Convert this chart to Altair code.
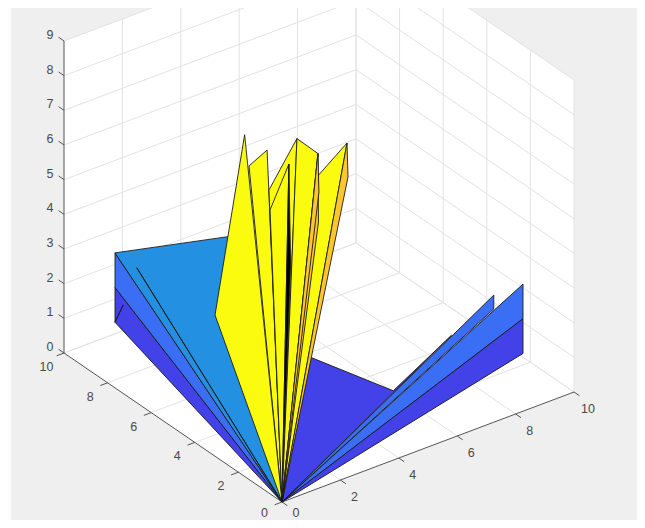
import altair as alt
import pandas as pd

DARK, MID, LIGHT, SKY = "#4341e8", "#3a6ef5", "#2a86ea", "#2490e2"
YEL, ORG = "#fbfb10", "#fdc52e"
EDGE = "#1c1c1c"
O = (0, 0, 0)

# surface faces, back to front: (fill, vertices as x, y, z)
FACES = [
    (DARK, [O, (5.25, 6, 0), (6.05, 3, 0), (7, 1.6, 1.9)]),
    (MID, [O, (8, 1, 3), (8, 1, 2.6)]),
    (MID, [O, (9, 1, 3), (9, 1, 2)]),
    (DARK, [O, (9, 1, 2), (9, 1, 1)]),
    (DARK, [O, (1, 9, 2), (1, 9, 1)]),
    (DARK, [(1, 9, 1), (1.28, 9, 1.41)]),
    (MID, [O, (1, 9, 3), (1, 9, 2)]),
    (SKY, [O, (1, 9, 3), (4.34, 7.74, 3)]),
    (EDGE, [O, (1, 8, 3)]),
    (YEL, [O, (3.41, 6.08, 6), (3.2, 4.97, 7)]),
    (YEL, [O, (1.2, 4.68, 3), (3.2, 6, 7)]),
    (YEL, [O, (3.07, 4.71, 6), (4.23, 4.98, 7)]),
    (YEL, [O, (3.57, 5.33, 5), (4.35, 5.51, 6)]),
    ("#000000", [O, (4.35, 5.51, 6), (4.49, 5.62, 3)]),
    (YEL, [O, (4.65, 4.55, 6), (5.19, 3.97, 7)]),
    (ORG, [O, (5.19, 3.97, 7), (5.24, 3.99, 6)]),
    (YEL, [O, (4.23, 4.98, 7), (4.21, 3.99, 7)]),
    (ORG, [O, (4.21, 3.99, 7), (4.25, 4.02, 5)]),
    (ORG, [O, (4.21, 3.99, 7), (4.11, 3.81, 6)]),
]
X_TICKS = [0, 2, 4, 6, 8, 10]
Y_TICKS = [0, 2, 4, 6, 8, 10]
Z_TICKS = [0, 1, 2, 3, 4, 5, 6, 7, 8, 9]


def proj(x, y, z):
    return 282 + 29.2 * x - 21.8 * y, 502 - 11.0 * x - 14.9 * y - 34.67 * z


W, H = 629, 512
xs = alt.X("px:Q", scale=alt.Scale(domain=[8, 8 + W], nice=False, zero=False), axis=None)
ys = alt.Y("py:Q", scale=alt.Scale(domain=[8 + H, 8], nice=False, zero=False), axis=None)


def poly_df(verts, close=True):
    pts = list(verts) + ([verts[0]] if close else [])
    return pd.DataFrame(
        [{"px": proj(*p)[0], "py": proj(*p)[1], "i": i} for i, p in enumerate(pts)]
    )


def poly(verts, fill, stroke=EDGE, sw=0.9):
    kw = dict(fill=fill, clip=True, strokeJoin="miter")
    if stroke:
        kw.update(stroke=stroke, strokeWidth=sw)
    else:
        kw.update(strokeWidth=0, strokeOpacity=0)
    return alt.Chart(poly_df(verts)).mark_line(**kw).encode(x=xs, y=ys, order="i:Q")


def segments(segs):
    rows = []
    for k, (a, b) in enumerate(segs):
        for i, p in enumerate((a, b)):
            px, py = proj(*p)
            rows.append({"px": px, "py": py, "i": i, "k": k})
    return pd.DataFrame(rows)


bg = alt.Chart(pd.DataFrame({"a": [0]})).mark_rect(color="#efefef").encode(
    x=alt.value(3), x2=alt.value(W), y=alt.value(0), y2=alt.value(H)
)

walls = [
    poly([(0, 0, 0), (10, 0, 0), (10, 10, 0), (0, 10, 0)], "#ffffff", None),
    poly([(0, 10, 0), (10, 10, 0), (10, 10, 9), (0, 10, 9)], "#ffffff", None),
    poly([(10, 0, 0), (10, 10, 0), (10, 10, 9), (10, 0, 9)], "#ffffff", None),
]

grid = []
for v in X_TICKS[1:]:
    grid.append(((v, 0, 0), (v, 10, 0)))
    grid.append(((v, 10, 0), (v, 10, 9)))
for v in Y_TICKS[1:]:
    grid.append(((0, v, 0), (10, v, 0)))
for v in Y_TICKS:
    grid.append(((10, v, 0), (10, v, 9)))
for v in Z_TICKS:
    grid.append(((0, 10, v), (10, 10, v)))
    grid.append(((10, 0, v), (10, 10, v)))
grid_layer = alt.Chart(segments(grid)).mark_line(color="#e2e2e2", strokeWidth=1, clip=True).encode(
    x=xs, y=ys, order="i:Q", detail="k:Q"
)

axes = [((0, 0, 0), (10, 0, 0)), ((0, 0, 0), (0, 10, 0)), ((0, 10, 0), (0, 10, 9))]
for v in X_TICKS:
    axes.append(((v, 0, 0), (v, -0.25, 0)))
for v in Y_TICKS:
    axes.append(((0, v, 0), (-0.25, v, 0)))
for v in Z_TICKS:
    axes.append(((0, 10, v), (0, 10.25, v)))
axes_layer = alt.Chart(segments(axes)).mark_line(color="#555555", strokeWidth=1, clip=True).encode(
    x=xs, y=ys, order="i:Q", detail="k:Q"
)

# the two "0" labels sit as low as the page allows
LABEL_FLOOR = 513
labels = []
for v in X_TICKS:
    p = proj(v, 0, 0)
    labels.append({"px": p[0] + 14, "py": min(p[1] + 17, LABEL_FLOOR), "t": str(v)})
for v in Y_TICKS:
    p = proj(0, v, 0)
    labels.append({"px": p[0] - 17.5, "py": min(p[1] + 14, LABEL_FLOOR), "t": str(v)})
for v in Z_TICKS:
    p = proj(0, 10, v)
    labels.append({"px": p[0] - 14, "py": p[1] - 6, "t": str(v)})
label_layer = alt.Chart(pd.DataFrame(labels)).mark_text(
    font="Liberation Sans", fontSize=12.5, color="#4a4a4a", align="center", baseline="middle"
).encode(x=xs, y=ys, text="t:N")

face_layers = [poly(v, c) for c, v in FACES]

chart = alt.layer(bg, *walls, grid_layer, axes_layer, *face_layers, label_layer).properties(
    width=W, height=H, padding=0, background="#ffffff",
    autosize=alt.AutoSizeParams(type="none")
).configure_view(stroke=None)

chart.save("out.html", embed_options={"renderer": "svg", "actions": False})
